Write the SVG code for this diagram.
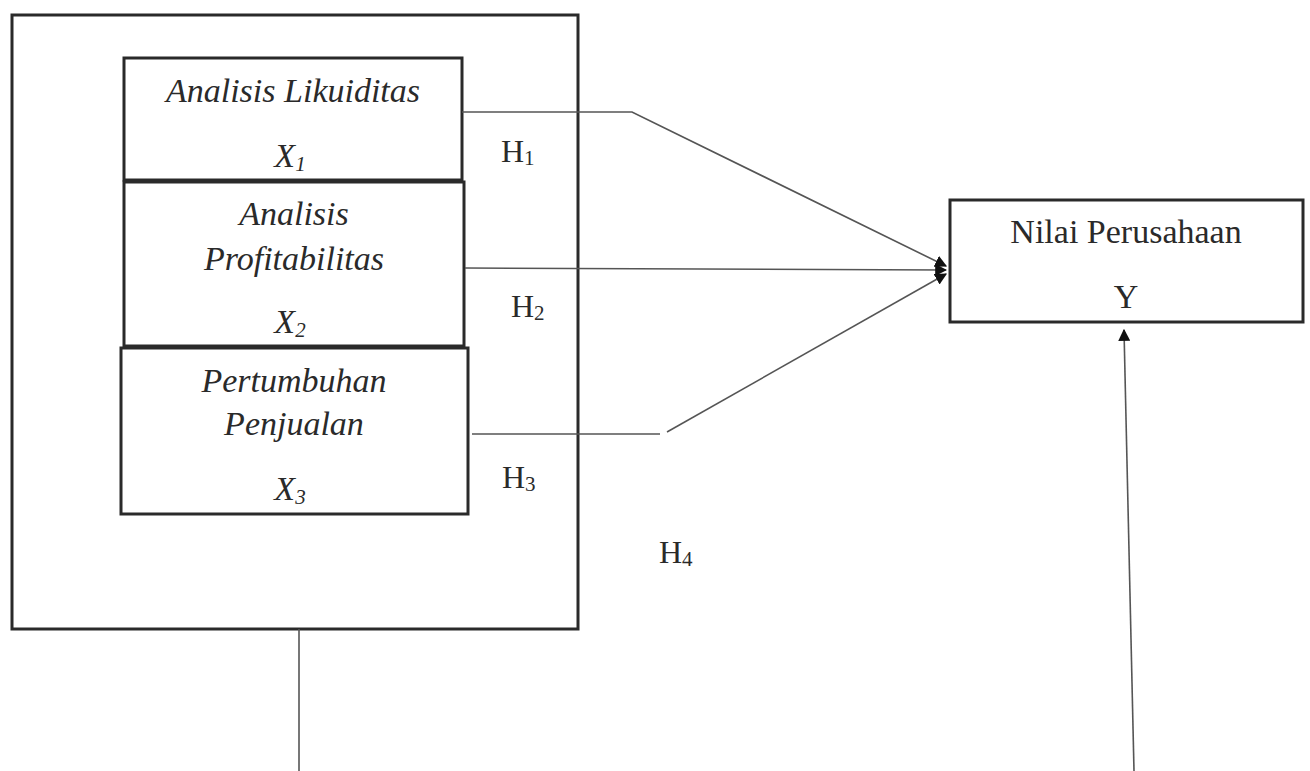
<svg xmlns="http://www.w3.org/2000/svg" width="1310" height="771" viewBox="0 0 1310 771">
<style>
.box{fill:#fff;stroke:#2a2a2a;stroke-width:3}
.ln{fill:none;stroke:#555;stroke-width:1.6}
.ti{font-family:"Liberation Serif",serif;font-style:italic;font-size:34px;fill:#2a2a2a;text-anchor:middle}
.tr{font-family:"Liberation Serif",serif;font-size:34px;fill:#2a2a2a;text-anchor:middle}
.h{font-family:"Liberation Serif",serif;font-size:32px;fill:#2a2a2a}
.sub{font-size:21px}
</style>
<defs>
<marker id="ah" viewBox="0 0 10 10" refX="9" refY="5" markerWidth="12" markerHeight="12" markerUnits="userSpaceOnUse" orient="auto">
<path d="M0,0 L10,5 L0,10 Z" fill="#111"/>
</marker>
</defs>
<rect width="1310" height="771" fill="#fff"/>
<g id="outer"><rect class="box" x="12" y="15" width="566" height="614"/></g>
<g id="x1"><rect class="box" x="124" y="58" width="338" height="122"/>
<text class="ti" x="293" y="102">Analisis Likuiditas</text>
<text class="ti" x="290" y="167">X<tspan class="sub" dy="4">1</tspan></text></g>
<g id="x2"><rect class="box" x="124" y="182" width="340" height="164"/>
<text class="ti" x="294" y="225">Analisis</text>
<text class="ti" x="294" y="270">Profitabilitas</text>
<text class="ti" x="290" y="333">X<tspan class="sub" dy="4">2</tspan></text></g>
<g id="x3"><rect class="box" x="121" y="348" width="347" height="166"/>
<text class="ti" x="294" y="392">Pertumbuhan</text>
<text class="ti" x="294" y="435">Penjualan</text>
<text class="ti" x="290" y="500">X<tspan class="sub" dy="4">3</tspan></text></g>
<g id="y"><rect class="box" x="950" y="200" width="353" height="122"/>
<text class="tr" x="1126" y="243">Nilai Perusahaan</text>
<text class="tr" x="1126" y="308">Y</text></g>
<g id="connectors">
<polyline class="ln" points="462,112 632,112 946,266" marker-end="url(#ah)"/>
<line class="ln" x1="465" y1="268" x2="946" y2="270" marker-end="url(#ah)"/>
<polyline class="ln" points="472,434 660,434" />
<line class="ln" x1="667" y1="432" x2="946" y2="274" marker-end="url(#ah)"/>
<line class="ln" x1="299" y1="629" x2="299" y2="771"/>
<line class="ln" x1="1134" y1="771" x2="1124" y2="330" marker-end="url(#ah)"/>
</g>
<g id="labels">
<text class="h" x="501" y="162">H<tspan class="sub" dy="3">1</tspan></text>
<text class="h" x="511" y="317">H<tspan class="sub" dy="3">2</tspan></text>
<text class="h" x="502" y="488">H<tspan class="sub" dy="3">3</tspan></text>
<text class="h" x="659" y="563">H<tspan class="sub" dy="3">4</tspan></text>
</g>
</svg>
